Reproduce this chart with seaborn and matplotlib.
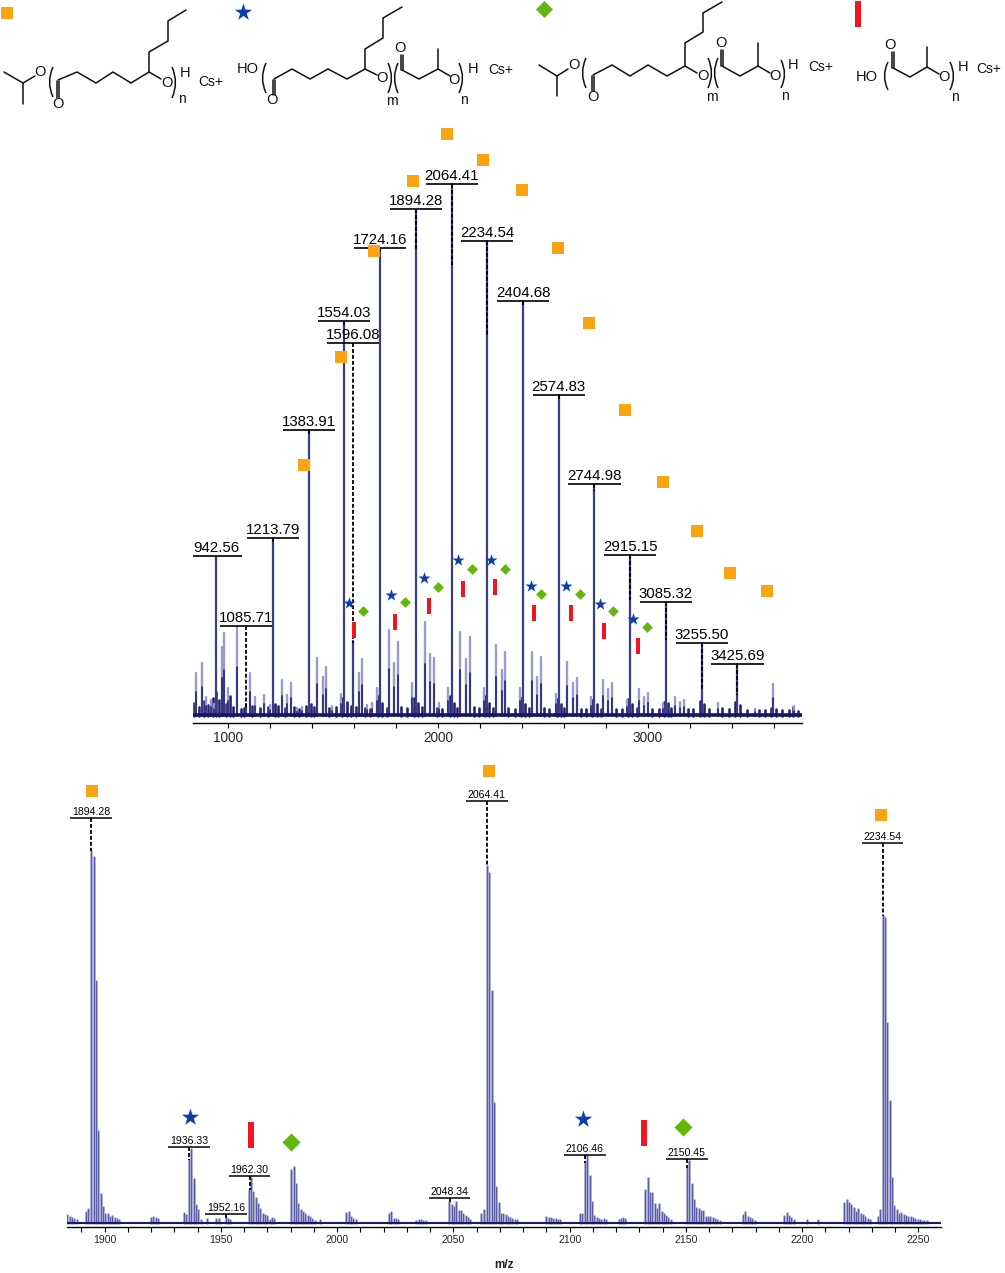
import numpy as np
import pandas as pd
import seaborn as sns
import matplotlib.pyplot as plt
from matplotlib.markers import MarkerStyle
from matplotlib.patches import PathPatch
from matplotlib.path import Path

# survey spectrum: labelled peaks
survey_labels = ["942.56", "1085.71", "1213.79", "1383.91", "1554.03", "1596.08", "1724.16", "1894.28", "2064.41",
                 "2234.54", "2404.68", "2574.83", "2744.98", "2915.15", "3085.32", "3255.50", "3425.69"]
survey_label_mz = [float(t) for t in survey_labels]
survey_label_h = [160, 12, 178, 286, 395, 75, 468, 507, 532, 475, 415, 321, 232, 161, 114, 73, 52]
survey_tag_h = [160, 90, 178, 286, 395, 373, 468, 507, 532, 475, 415, 321, 232, 161, 114, 73, 52]
survey_dash_end = [160, 8, 173, 282, 390, 73, 462, 466, 451, 381, 410, 316, 225, 116, 76, 26, 21]

# survey spectrum: smaller peaks
survey_small_mz = [848, 875, 895, 919, 933, 970, 980, 1000, 1043, 1103, 1129, 1171, 1200, 1256, 1281, 1300, 1329, 1352,
                   1424, 1452, 1467, 1495, 1538, 1622, 1638, 1662, 1686, 1708, 1768, 1790, 1811, 1876, 1938, 1962, 1981,
                   2005, 2046, 2105, 2132, 2151, 2219, 2276, 2303, 2319, 2389, 2448, 2470, 2489, 2560, 2614, 2641, 2660,
                   2729, 2786, 2810, 2829, 2899, 2957, 2981, 2999, 3071, 3127, 3152, 3171, 3333, 3510, 3595, 3695]
survey_small_h = [43, 53, 19, 16, 12, 69, 83, 28, 89, 43, 19, 21, 11, 36, 21, 33, 8, 9,
                  58, 39, 49, 10, 22, 43, 57, 11, 13, 28, 86, 53, 74, 33, 94, 62, 58,
                  13, 28, 84, 57, 79, 28, 71, 46, 64, 28, 64, 39, 59, 22, 54, 33, 38,
                  19, 36, 27, 33, 16, 27, 19, 23, 13, 19, 14, 16, 13, 7, 32, 10]

# survey spectrum: grass along the baseline
survey_grass_mz = [840, 860, 885, 905, 928, 945, 955, 990, 1010, 1025, 1060, 1075, 1115, 1150, 1190, 1225, 1240, 1270,
                   1315, 1340, 1372, 1395, 1410, 1480, 1515, 1545, 1565, 1585, 1610, 1650, 1675, 1715, 1735, 1755, 1825,
                   1850, 1885, 1905, 1925, 1995, 2020, 2055, 2075, 2090, 2170, 2195, 2225, 2245, 2262, 2335, 2365, 2395,
                   2415, 2435, 2505, 2530, 2565, 2585, 2600, 2680, 2705, 2735, 2755, 2775, 2845, 2875, 2905, 2925, 2945,
                   3020, 3050, 3078, 3095, 3110, 3190, 3215, 3245, 3265, 3290, 3350, 3385, 3415, 3440, 3470, 3530, 3555,
                   3585, 3610, 3640, 3670, 3690, 3715]
survey_grass_h = [13, 9, 15, 11, 18, 24, 16, 12, 20, 9, 7, 8, 10, 8, 9, 12, 10, 8,
                  9, 7, 10, 12, 9, 8, 9, 18, 14, 10, 9, 8, 7, 20, 13, 8, 9,
                  8, 18, 13, 9, 8, 7, 20, 13, 8, 9, 8, 20, 13, 8, 8, 7, 18,
                  12, 8, 8, 7, 17, 12, 8, 7, 7, 16, 12, 7, 7, 7, 17, 12, 8,
                  7, 7, 14, 13, 8, 7, 7, 15, 12, 7, 8, 7, 14, 11, 6, 6, 6,
                  8, 7, 6, 6, 9, 5]

# zoomed spectrum: isotope sticks
zoom_mz = [1884, 1885, 1886, 1887, 1888, 1892, 1893, 1894.3, 1895.3, 1896.3, 1897.3, 1898.3, 1899.3, 1900.3, 1901.3,
           1902.3, 1903.3, 1904.3, 1905.3, 1906.3, 1920, 1921, 1922, 1923, 1934, 1935, 1936.3, 1937.3, 1938.3, 1939.3,
           1940.3, 1941.3, 1944, 1948, 1949, 1952.2, 1953, 1954, 1962, 1963, 1964, 1965, 1966, 1967, 1968, 1969, 1970,
           1971, 1972, 1973, 1980.3, 1981.3, 1982.3, 1983.3, 1984.3, 1985.3, 1986.3, 1987.3, 1988.3, 1989.3, 1990.3,
           1992.5, 2004, 2005, 2006, 2007, 2008, 2022.3, 2023.3, 2024.3, 2025.3, 2026.3, 2034, 2035, 2036, 2037, 2038,
           2048.3, 2049.3, 2050.3, 2051.3, 2052.3, 2053.3, 2054.3, 2055.3, 2056.3, 2057.3, 2062, 2063, 2064.4, 2065.4,
           2066.4, 2067.4, 2068.4, 2069.4, 2070.4, 2071.4, 2072.4, 2073.4, 2074.4, 2075.4, 2076.4, 2077.4, 2090, 2091,
           2092, 2093, 2094, 2095, 2096, 2104.3, 2105.3, 2106.5, 2107.6, 2108.6, 2109.6, 2110.6, 2111.6, 2112.6, 2113.6,
           2114.6, 2115.6, 2121, 2122, 2123, 2124, 2132.5, 2133.5, 2134.5, 2135.5, 2136.5, 2137.5, 2138.5, 2139.5,
           2140.5, 2141.5, 2142.5, 2143.5, 2150.5, 2151.5, 2152.5, 2153.5, 2154.5, 2155.5, 2156.5, 2157.5, 2158.5,
           2159.5, 2160.5, 2161.5, 2162.5, 2163.5, 2164.5, 2174.5, 2175.5, 2176.5, 2177.5, 2178.5, 2179.5, 2192.3,
           2193.3, 2194.3, 2195.3, 2196.3, 2202, 2207, 2218.1, 2219.1, 2220.1, 2221.1, 2222.1, 2223.1, 2224.1, 2225.1,
           2226.1, 2227.1, 2228.1, 2229.1, 2232.6, 2233.6, 2234.6, 2235.6, 2236.6, 2237.6, 2238.6, 2239.6, 2240.6,
           2241.6, 2242.6, 2243.6, 2244.6, 2245.6, 2246.6, 2247.6, 2248.6, 2249.6, 2250.6, 2251.6, 2252.6, 2253.6]
zoom_h = [8, 6, 5, 4, 3, 11, 14, 372, 366, 242, 92, 29, 16, 9, 9,
          6, 7, 5, 4, 3, 5, 6, 5, 4, 10, 8, 63, 74, 44, 18,
          13, 3, 4, 4, 4, 5, 4, 3, 33, 45, 31, 25, 19, 14, 9, 8, 7,
          3, 5, 4, 53, 56, 39, 19, 13, 11, 9, 7, 6, 4, 2,
          3, 10, 11, 6, 4, 3, 9, 11, 4, 4, 3, 2, 3, 3, 2, 2,
          21, 18, 16, 21, 12, 12, 9, 7, 5, 3, 9, 13, 357, 350,
          232, 120, 36, 20, 9, 9, 8, 6, 5, 4, 3, 3, 6, 5,
          5, 4, 4, 3, 3, 9, 9, 60, 68, 47, 21, 7, 5, 4, 3,
          4, 3, 3, 4, 5, 4, 33, 45, 30, 30, 19, 14, 19, 11,
          9, 7, 5, 3, 55, 62, 39, 23, 15, 14, 12, 12, 6,
          6, 6, 5, 4, 3, 2, 8, 11, 6, 5, 4, 2, 7,
          10, 7, 5, 3, 3, 3, 20, 23, 20, 18, 15, 11, 14, 9,
          8, 6, 4, 3, 6, 13, 307, 305, 200, 122, 45, 17, 13,
          9, 10, 8, 7, 6, 6, 5, 4, 3, 3, 2, 2, 2]

zoom_labels = ["1894.28", "1936.33", "1952.16", "1962.30", "2048.34", "2064.41", "2106.46", "2150.45", "2234.54"]
zoom_label_mz = [float(t) for t in zoom_labels]
zoom_tag_h = [405, 76, 9, 47, 25, 422, 68, 64, 380]
zoom_dash_end = [372, 63, 5, 33, 21, 357, 60, 55, 307]

# assignment symbols, survey spectrum
square_mz = [1362, 1538, 1695, 1881, 2043, 2214, 2400, 2571, 2719, 2890, 3071, 3233, 3390, 3567]
square_h = [251, 359, 465, 535, 582, 556, 526, 468, 393, 306, 234, 185, 143, 125]
star_mz = [1576, 1776, 1933, 2095, 2252, 2443, 2610, 2771, 2929]
star_h = [113, 121, 138, 156, 156, 130, 130, 112, 97]
diamond_mz = [1643, 1843, 2000, 2162, 2319, 2490, 2676, 2833, 2995]
diamond_h = [105, 114, 129, 147, 147, 122, 122, 105, 89]
bar_mz = [1600, 1795, 1957, 2119, 2271, 2457, 2633, 2790, 2952]
bar_h = [86, 94, 110, 127, 129, 103, 103, 85, 70]

# assignment symbols, zoomed spectrum
zoom_square_mz = [1894.5, 2065.3, 2233.9]
zoom_square_h = [432, 452, 408]
zoom_star_mz = [1936.7, 2105.7]
zoom_star_h = [106, 104]
zoom_bar_mz = [1963, 2132]
zoom_bar_h = [88, 90]
zoom_diamond_mz = [1980.1, 2148.7]
zoom_diamond_h = [81, 96]

ORANGE = "#fca311"
BLUE = "#0b3ea8"
GREEN = "#62b80a"
RED = "#f4141e"
W, H = 1005, 1273

sns.set_style("white")
plt.rcParams["font.family"] = ["Liberation Sans", "DejaVu Sans"]
bar_marker = MarkerStyle(Path([(-0.13, -0.5), (0.13, -0.5), (0.13, 0.5), (-0.13, 0.5), (-0.13, -0.5)]))


def stems(ax, mz, h, color, lw):
    frame = pd.DataFrame({
        "mz": np.repeat(mz, 2),
        "h": np.column_stack([np.zeros(len(h)), h]).ravel(),
        "peak": np.repeat(np.arange(len(mz)), 2),
    })
    sns.lineplot(data=frame, x="mz", y="h", units="peak", estimator=None, sort=False,
                 color=color, lw=lw, legend=False, ax=ax)


def symbols(ax, mz, h, marker, color, size):
    sns.scatterplot(x=mz, y=h, marker=marker, color=color, s=size, linewidth=0, zorder=6, legend=False, ax=ax)


def tags(ax, mz, labels, tag_h, dash_end, half, fs, lw, gap):
    for x, t, y, end in zip(mz, labels, tag_h, dash_end):
        ax.plot([x - half, x + half], [y, y], color="black", lw=lw, zorder=5, solid_capstyle="butt")
        ax.plot([x, x], [y, end], color="black", lw=1.3, ls=(0, (2.2, 1.1)), zorder=5)
        ax.text(x, y + gap, t, ha="center", va="bottom", fontsize=fs, color="black", zorder=7)


def style_axis(ax, major, minor, fs):
    sns.despine(ax=ax, left=True, top=True, right=True)
    ax.set_yticks([])
    ax.set_xticks(major)
    ax.set_xticks(minor, minor=True)
    ax.tick_params(axis="x", which="both", bottom=True, length=3.6, width=0.8, color="black", pad=2, labelsize=fs)
    ax.spines["bottom"].set_color("black")
    ax.spines["bottom"].set_linewidth(1.0)
    ax.set_xlabel("")
    ax.set_ylabel("")
    ax.patch.set_alpha(0)


fig = plt.figure(figsize=(W / 100, H / 100), dpi=100)

# survey spectrum
ax1 = fig.add_axes([193 / W, 1 - 723 / H, 609 / W, 623 / H])
ax1.set_xlim(833.3, 3733)
ax1.set_ylim(-7, 616)
stems(ax1, survey_grass_mz, survey_grass_h, "#23246f", 1.9)
stems(ax1, survey_small_mz, survey_small_h, "#9a9bcb", 1.7)
stems(ax1, survey_small_mz, [v * 0.55 for v in survey_small_h], "#22236f", 1.2)
stems(ax1, survey_label_mz, survey_label_h, "#3a3c8c", 1.6)
ax1.axhline(1, color="#16175f", lw=2.6, zorder=3)
tags(ax1, survey_label_mz, survey_labels, survey_tag_h, survey_dash_end, 124, 10.8, 1.2, 1)
symbols(ax1, square_mz, square_h, "s", ORANGE, 75)
symbols(ax1, star_mz, star_h, "*", BLUE, 85)
symbols(ax1, diamond_mz, diamond_h, "D", GREEN, 30)
symbols(ax1, bar_mz, bar_h, bar_marker, RED, 130)
style_axis(ax1, [1000, 2000, 3000], np.arange(1200, 3700, 200), 9.8)

# zoomed spectrum
ax2 = fig.add_axes([67 / W, 1 - 1227 / H, 874 / W, 472 / H])
ax2.set_xlim(1883.8, 2259.7)
ax2.set_ylim(-4.3, 467.7)
stems(ax2, zoom_mz, zoom_h, "#b0b1d8", 2.1)
stems(ax2, zoom_mz, zoom_h, "#5a5ca6", 0.8)
ax2.axhline(0, color="#1a1b66", lw=1.5, zorder=3)
tags(ax2, zoom_label_mz, zoom_labels, zoom_tag_h, zoom_dash_end, 9, 7.6, 1.1, 0.5)
symbols(ax2, zoom_square_mz, zoom_square_h, "s", ORANGE, 75)
symbols(ax2, zoom_star_mz, zoom_star_h, "*", BLUE, 170)
symbols(ax2, zoom_diamond_mz, zoom_diamond_h, "D", GREEN, 85)
symbols(ax2, zoom_bar_mz, zoom_bar_h, bar_marker, RED, 340)
style_axis(ax2, np.arange(1900, 2260, 50), np.arange(1890, 2260, 10), 7.6)

# structures on a page-sized overlay in pixel units
page = fig.add_axes([0, 0, 1, 1])
page.set_xlim(0, W)
page.set_ylim(H, 0)
page.axis("off")
page.patch.set_alpha(0)


def bond(*pts):
    xs, ys = zip(*pts)
    page.plot(xs, ys, color="#111111", lw=1.1, solid_joinstyle="miter")


def double(x0, y0, x1, y1):
    bond((x0 - 1.4, y0), (x1 - 1.4, y1))
    bond((x0 + 1.4, y0), (x1 + 1.4, y1))


def paren(x, y0, y1, bulge):
    path = Path([(x, y0), (x + bulge, (y0 + y1) / 2), (x, y1)], [Path.MOVETO, Path.CURVE3, Path.CURVE3])
    page.add_patch(PathPatch(path, fc="none", ec="#111111", lw=1.1))


def atom(x, y, t, fs=10.5):
    page.text(x, y, t, ha="center", va="center", fontsize=fs, color="#111111")


# structure 1
bond((4, 72), (23, 83), (35, 76))
bond((23, 83), (23, 104))
atom(40, 72, "O")
paren(53, 67, 97, -7)
double(58, 81, 58, 98)
bond((58, 80), (77, 72), (96, 83), (113, 72), (131, 83), (149, 72), (161, 79))
bond((149, 72), (149, 52), (168, 41), (168, 21), (186, 10))
atom(58, 104, "O")
atom(167, 83, "O")
paren(172, 67, 98, 7)
atom(185, 73, "H")
atom(182, 99, "n", 10)
atom(211, 82, "Cs+", 10)

# structure 2
atom(248, 69, "HO")
paren(266, 63, 93, -7)
double(274, 80, 274, 95)
bond((274, 79), (292, 69), (310, 79), (328, 69), (347, 79), (365, 69), (377, 75))
bond((365, 69), (365, 49), (383, 38), (383, 18), (402, 7))
atom(272, 100, "O")
atom(382, 78, "O")
paren(388, 63, 93, 7)
paren(398, 63, 93, -7)
double(402, 70, 402, 55)
bond((402, 70), (419, 79), (438, 69), (450, 76))
bond((438, 69), (438, 49))
atom(400, 48, "O")
atom(454, 80, "O")
paren(459, 63, 93, 7)
atom(473, 69, "H")
atom(392, 101, "m", 10)
atom(464, 100, "n", 10)
atom(501, 70, "Cs+", 10)

# structure 3
bond((539, 65), (557, 76), (568, 69))
bond((557, 76), (557, 96))
atom(574, 65, "O")
paren(586, 58, 88, -7)
double(593, 76, 593, 91)
bond((593, 75), (612, 65), (630, 76), (648, 65), (667, 76), (685, 66), (697, 73))
bond((685, 66), (685, 43), (703, 32), (703, 13), (722, 2))
atom(593, 97, "O")
atom(703, 76, "O")
paren(708, 58, 88, 7)
paren(718, 58, 88, -7)
double(722, 66, 722, 50)
bond((722, 66), (740, 76), (758, 66), (770, 73))
bond((758, 66), (758, 43))
atom(721, 43, "O")
atom(775, 76, "O")
paren(781, 60, 88, 7)
atom(793, 65, "H")
atom(712, 97, "m", 10)
atom(785, 96, "n", 10)
atom(821, 67, "Cs+", 10)

# structure 4
atom(867, 77, "HO")
paren(888, 62, 90, -7)
double(893, 68, 893, 52)
bond((893, 68), (910, 77), (927, 67), (939, 74))
bond((927, 67), (927, 47))
atom(890, 45, "O")
atom(944, 77, "O")
paren(950, 62, 90, 7)
atom(963, 67, "H")
atom(955, 97, "n", 10)
atom(989, 69, "Cs+", 10)

# symbol key above the structures
symbols(page, [7], [13], "s", ORANGE, 75)
symbols(page, [243], [12], "*", BLUE, 170)
symbols(page, [544], [9], "D", GREEN, 75)
symbols(page, [858], [14], bar_marker, RED, 330)

page.text(504, 1265, "m/z", ha="center", va="center", fontsize=8.5, fontweight="bold", color="#222222")

fig.savefig("out.png", dpi=100)
